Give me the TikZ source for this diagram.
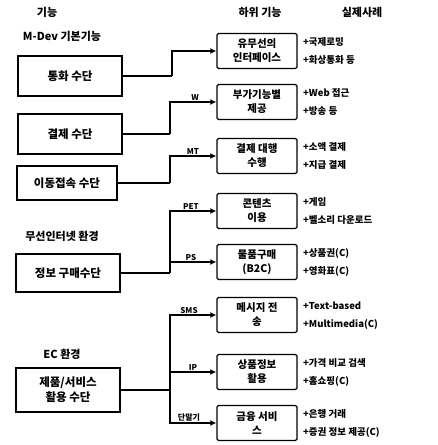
\documentclass[tikz,border=0pt]{standalone}
\usepackage{fontspec}
\newfontfamily\kr{Noto Sans CJK KR}
\usetikzlibrary{arrows.meta}
\begin{document}
\begin{tikzpicture}[x=1pt,y=-1pt,
  font=\kr\bfseries\fontsize{11}{13}\selectfont,
  head/.style={font=\kr\bfseries\fontsize{11}{13}\selectfont},
  lbox/.style={draw, line width=1.5pt, minimum width=104pt, align=center, inner sep=2pt, font=\kr\bfseries\fontsize{11.5}{15}\selectfont},
  sbox/.style={draw, line width=1.4pt, rounded corners=1.5pt, minimum width=80pt, minimum height=35pt, align=center, inner sep=1pt, font=\kr\bfseries\fontsize{10.5}{14}\selectfont},
  conn/.style={line width=1.4pt},
  arr/.style={line width=1.4pt, -{Latex[length=6pt,width=6pt]}},
  elab/.style={font=\kr\bfseries\fontsize{8}{9}\selectfont, anchor=south, inner sep=1.5pt},
  det/.style={anchor=west, font=\kr\bfseries\fontsize{9.5}{11}\selectfont, inner sep=0pt}
]
\useasboundingbox (0,0) rectangle (437,445);

% headers
\node[head] (h1) at (47,12) {기능};
\node[head] (h2) at (260,12) {하위 기능};
\node[head] (h3) at (362,12) {실제사례};

% group labels
\node (g1) at (62,36) {M-Dev 기본기능};
\node (g2) at (62,236) {무선인터넷 환경};
\node (g3) at (62,354) {EC 환경};

% left boxes
\node[lbox, minimum height=40pt] (L1) at (70,76) {통화 수단};
\node[lbox, minimum height=40pt] (L2) at (70,134) {결제 수단};
\node[lbox, minimum width=100pt, minimum height=34pt] (L3) at (67,183) {이동접속 수단};
\node[lbox, minimum height=38pt] (L4) at (68,273) {정보 구매수단};
\node[lbox, minimum height=44pt] (L5) at (68,390) {제품/서비스\\활용 수단};

% sub-function boxes
\node[sbox] (S1) at (257,51) {유무선의\\인터페이스};
\node[sbox] (S2) at (257,102) {부가기능별\\제공};
\node[sbox] (S3) at (257,156) {결제 대행\\수행};
\node[sbox] (S4) at (257,211) {콘텐츠\\이용};
\node[sbox] (S5) at (257,262) {물품구매\\(B2C)};
\node[sbox] (S6) at (257,315) {메시지 전\\송};
\node[sbox] (S7) at (257,372) {상품정보\\활용};
\node[sbox] (S8) at (257,423) {금융 서비\\스};

% junctions
\coordinate (j1) at (172,76);
\coordinate (j2) at (170,134);
\coordinate (j3) at (170,183);
\coordinate (j4) at (170,273);
\coordinate (j5) at (170,390);

% connectors
\draw[conn] (L1.east) -- (j1);
\draw[arr] (j1) |- (S1.west);
\draw[conn] (L2.east) -- (j2);
\draw[arr] (j2) |- (S2.west);
\draw[conn] (L3.east) -- (j3);
\draw[arr] (j3) |- (S3.west);
\draw[conn] (L4.east) -- (j4);
\draw[arr] (j4) |- (S4.west);
\draw[arr] (j4) |- (S5.west);
\draw[conn] (L5.east) -- (j5);
\draw[arr] (j5) |- (S6.west);
\draw[arr] (j5) |- (S7.west);
\draw[arr] (j5) |- (S8.west);

% connector labels
\node[elab] (e2) at (195,102) {W};
\node[elab] (e3) at (193,156) {MT};
\node[elab] (e4) at (191,211) {PET};
\node[elab] (e5) at (191,262) {PS};
\node[elab] (e6) at (189,315) {SMS};
\node[elab] (e7) at (193,372) {IP};
\node[elab] (e8) at (189,423) {단말기};

% details
\node[det] (d1a) at (303,42) {+국제로밍};
\node[det] (d1b) at (303,60) {+화상통화 등};
\node[det] (d2a) at (303,93) {+Web 접근};
\node[det] (d2b) at (303,111) {+방송 등};
\node[det] (d3a) at (303,147) {+소액 결제};
\node[det] (d3b) at (303,165) {+지급 결제};
\node[det] (d4a) at (303,202) {+게임};
\node[det] (d4b) at (303,220) {+벨소리 다운로드};
\node[det] (d5a) at (303,253) {+상품권(C)};
\node[det] (d5b) at (303,271) {+영화표(C)};
\node[det] (d6a) at (303,306) {+Text-based};
\node[det] (d6b) at (303,324) {+Multimedia(C)};
\node[det] (d7a) at (303,363) {+가격 비교 검색};
\node[det] (d7b) at (303,381) {+홈쇼핑(C)};
\node[det] (d8a) at (303,414) {+은행 거래};
\node[det] (d8b) at (303,432) {+증권 정보 제공(C)};
\end{tikzpicture}
\end{document}
